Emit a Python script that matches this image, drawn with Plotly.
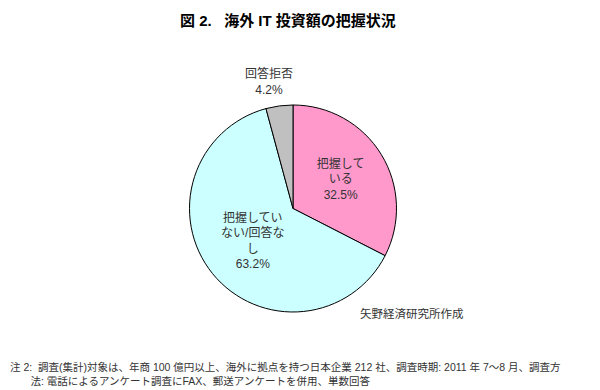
import plotly.graph_objects as go

categories = ["把握している", "把握していない/回答なし", "回答拒否"]
label_text = ["把握して<br>いる", "把握してい<br>ない/回答な<br>し", "回答拒否"]
values = [32.5, 63.2, 4.2]
colors = ["#FF99CC", "#CCFFFF", "#C0C0C0"]

title = "図 2.   海外 IT 投資額の把握状況"
source = "矢野経済研究所作成"
note_lines = [
    "注 2:  調査(集計)対象は、年商 100 億円以上、海外に拠点を持つ日本企業 212 社、調査時期: 2011 年 7～8 月、調査方",
    "       法: 電話によるアンケート調査にFAX、郵送アンケートを併用、単数回答",
]

FONT = "Liberation Sans, Noto Sans CJK JP"

texts = [f"{t}<br>{v:.1f}%" for t, v in zip(label_text, values)]
texts[2] = ""

fig = go.Figure(go.Pie(
    labels=categories,
    values=values,
    sort=False,
    direction="clockwise",
    rotation=0,
    marker=dict(colors=colors, line=dict(color="#000000", width=1)),
    text=texts,
    textinfo="text",
    textposition="inside",
    insidetextorientation="horizontal",
    textfont=dict(family=FONT, size=12, color="#333333"),
    domain=dict(x=[0.3025, 0.6475], y=[0.2205, 0.7513]),
    showlegend=False,
    hoverinfo="label+percent",
))

fig.add_annotation(
    x=0.435, y=0.8128, xref="paper", yref="paper", xanchor="center", yanchor="middle",
    text=f"{label_text[2]}<br>{values[2]:.1f}%",
    showarrow=False, font=dict(family=FONT, size=12, color="#333333"),
    align="center",
)
fig.add_annotation(
    x=0.583, y=0.2179, xref="paper", yref="paper", xanchor="left", yanchor="middle",
    text=source, showarrow=False,
    font=dict(family=FONT, size=11.5, color="#333333"),
)
fig.add_annotation(
    x=0.0, y=0.0615, xref="paper", yref="paper", xanchor="left", yanchor="middle",
    text="<br>".join(note_lines), showarrow=False, align="left",
    font=dict(family=FONT, size=10.5, color="#333333"),
)
fig.add_annotation(
    x=0.466, y=0.995, xref="paper", yref="paper", xanchor="center", yanchor="top",
    text=f"<b>{title}</b>", showarrow=False,
    font=dict(family=FONT, size=15, color="#000000"),
)

fig.update_layout(
    width=600, height=390,
    margin=dict(l=0, r=0, t=0, b=0),
    paper_bgcolor="white", plot_bgcolor="white",
)

fig.write_html("out.html")
